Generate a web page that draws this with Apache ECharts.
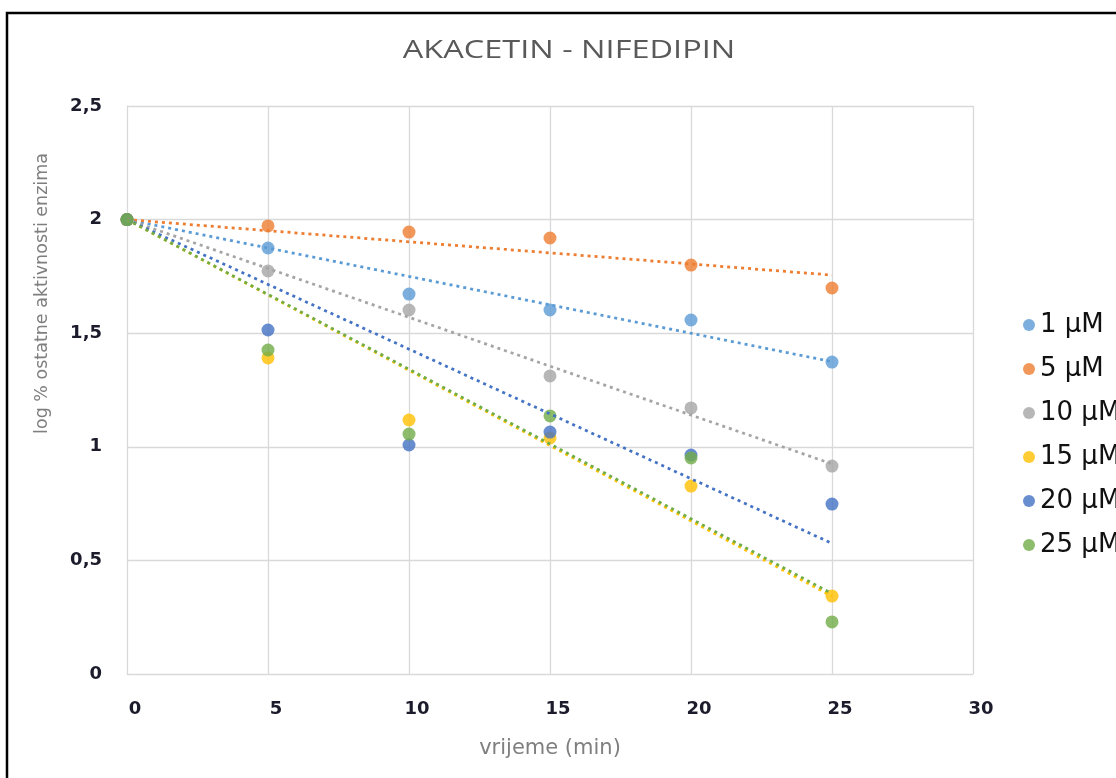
<!DOCTYPE html>
<html>
<head>
<meta charset="utf-8">
<script src="https://cdn.jsdelivr.net/npm/echarts@6/dist/echarts.min.js"></script>
<style>
html,body{margin:0;padding:0;background:#fff;}
#chart{width:1116px;height:778px;}
</style>
</head>
<body>
<div id="chart"></div>
<script>
// ---- data ----
const times = [0, 5, 10, 15, 20, 25];
const seriesNames = ['1 µM', '5 µM', '10 µM', '15 µM', '20 µM', '25 µM'];
const s1uM  = [2, 1.875, 1.672, 1.602, 1.558, 1.373];
const s5uM  = [2, 1.972, 1.945, 1.919, 1.800, 1.699];
const s10uM = [2, 1.774, 1.602, 1.312, 1.171, 0.915];
const s15uM = [2, 1.391, 1.118, 1.039, 0.827, 0.343];
const s20uM = [2, 1.514, 1.008, 1.065, 0.964, 0.748];
const s25uM = [2, 1.426, 1.056, 1.136, 0.951, 0.229];
const xTicks = [0, 5, 10, 15, 20, 25, 30];
const yTicks = [0, 0.5, 1, 1.5, 2, 2.5];
const trendIntercept = 2; // trendlines forced through (0, 2)

const colors = ['#5B9BD5', '#ED7D31', '#A5A5A5', '#FFC000', '#4472C4', '#70AD47'];
const allValues = [s1uM, s5uM, s10uM, s15uM, s20uM, s25uM];

// linear trendline with fixed intercept (least squares)
function trendline(xs, ys, b) {
  let sxy = 0, sxx = 0;
  for (let i = 0; i < xs.length; i++) { sxy += xs[i] * (ys[i] - b); sxx += xs[i] * xs[i]; }
  const m = sxy / sxx;
  const x0 = xs[0], x1 = xs[xs.length - 1];
  return [[x0, b + m * x0], [x1, b + m * x1]];
}

const series = [];
allValues.forEach((vals, i) => {
  series.push({
    name: seriesNames[i],
    type: 'scatter',
    symbol: 'circle',
    symbolSize: 13,
    itemStyle: { color: colors[i] },
    z: 2,
    data: times.map((t, j) => [t, vals[j]])
  });
});
allValues.forEach((vals, i) => {
  series.push({
    name: seriesNames[i] + ' trend',
    type: 'line',
    symbol: 'none',
    silent: true,
    z: 3,
    lineStyle: { color: colors[i], width: 2.75, type: [3, 4] },
    data: trendline(times, vals, trendIntercept)
  });
});

const tickFont = '"DejaVu Sans", Lato, sans-serif';
const textFont = '"DejaVu Sans", "Open Sans", sans-serif';
const chart = echarts.init(document.getElementById('chart'));
chart.setOption({
  animation: false,
  backgroundColor: '#fff',
  grid: { left: 127, right: 143, top: 106, bottom: 104, containLabel: false },
  xAxis: {
    type: 'value', min: 0, max: 30, interval: 5,
    name: 'vrijeme (min)', nameLocation: 'middle', nameGap: 64,
    nameTextStyle: { fontFamily: textFont, fontSize: 21, color: '#7f7f7f' },
    axisLine: { show: true, lineStyle: { color: '#d9d9d9', width: 1 } },
    axisTick: { show: false },
    splitLine: { show: true, lineStyle: { color: '#d9d9d9', width: 1.3 } },
    axisLabel: {
      margin: 26, padding: [0, 0, 0, 16],
      fontFamily: tickFont, fontSize: 18, fontWeight: 'bold', color: '#1b1b2b',
      formatter: v => xTicks.includes(v) ? String(v) : ''
    }
  },
  yAxis: {
    type: 'value', min: 0, max: 2.5, interval: 0.5,
    axisLine: { show: true, lineStyle: { color: '#d9d9d9', width: 1 } },
    axisTick: { show: false },
    splitLine: { show: true, lineStyle: { color: '#d9d9d9', width: 1.3 } },
    axisLabel: {
      margin: 25, padding: [8, 0, 0, 0],
      fontFamily: tickFont, fontSize: 18, fontWeight: 'bold', color: '#1b1b2b',
      formatter: v => yTicks.includes(v) ? String(v).replace('.', ',') : ''
    }
  },
  legend: {
    data: seriesNames,
    orient: 'vertical',
    left: 1018, top: 307,
    itemWidth: 12, itemHeight: 12, itemGap: 18,
    icon: 'circle',
    textStyle: { fontFamily: textFont, fontSize: 26, color: '#111' }
  },
  graphic: [
    {
      type: 'text', x: 569, y: 51,
      scaleX: 1.3,
      style: {
        text: 'AKACETIN - NIFEDIPIN', fontFamily: '"Open Sans", sans-serif', fontSize: 25,
        fill: '#595959', align: 'center', verticalAlign: 'middle'
      }
    },
    {
      type: 'text', left: 33, top: 153,
      rotation: Math.PI / 2, originX: 0, originY: 0,
      style: { text: 'log % ostatne aktivnosti enzima', fontFamily: textFont, fontSize: 17.5, fill: '#7f7f7f' }
    },
    {
      type: 'polyline', silent: true, z: 100,
      shape: { points: [[7, 778], [7, 13], [1116, 13]] },
      style: { stroke: '#000', lineWidth: 2.5, fill: null }
    }
  ],
  series: series
});
</script>
</body>
</html>
